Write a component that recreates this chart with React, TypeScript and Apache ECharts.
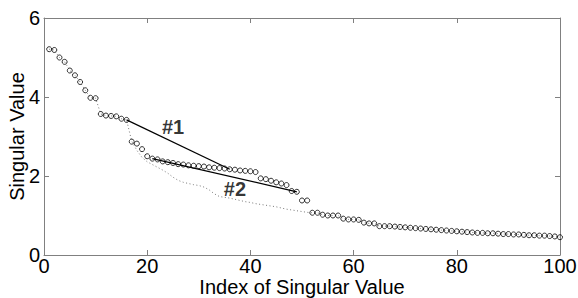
import React, { useEffect, useRef } from "react";
import * as echarts from "echarts";

// Singular values (index 1..100), open circles
const singularValues: number[] = [
  5.21, 5.19, 5.0, 4.89, 4.67, 4.55, 4.38, 4.17, 3.98, 3.97,
  3.57, 3.53, 3.52, 3.51, 3.45, 3.42, 2.87, 2.82, 2.68, 2.5,
  2.44, 2.42, 2.37, 2.35, 2.33, 2.3, 2.29, 2.27, 2.26, 2.25,
  2.24, 2.22, 2.21, 2.2, 2.19, 2.17, 2.16, 2.14, 2.13, 2.12,
  2.1, 1.94, 1.92, 1.88, 1.84, 1.81, 1.77, 1.62, 1.6, 1.38,
  1.38, 1.07, 1.07, 1.02, 1.0, 1.0, 1.0, 0.92, 0.9, 0.9,
  0.89, 0.82, 0.8, 0.8, 0.73, 0.73, 0.73, 0.72, 0.71, 0.7,
  0.69, 0.68, 0.67, 0.66, 0.65, 0.64, 0.63, 0.62, 0.61, 0.6,
  0.59, 0.58, 0.57, 0.56, 0.56, 0.55, 0.55, 0.54, 0.53, 0.53,
  0.52, 0.52, 0.51, 0.5, 0.5, 0.49, 0.49, 0.48, 0.47, 0.45,
];

// Dotted lower curve between index 16 and 52
const lowerStart = 16;
const lowerCurve: number[] = [
  3.42, 2.88, 2.65, 2.47, 2.36, 2.29, 2.22, 2.15, 2.07, 1.97,
  1.89, 1.84, 1.81, 1.78, 1.76, 1.72, 1.65, 1.55, 1.48, 1.46,
  1.44, 1.41, 1.38, 1.35, 1.33, 1.3, 1.28, 1.26, 1.24, 1.22,
  1.19, 1.16, 1.14, 1.12, 1.1, 1.08, 1.07,
];

// Annotation segments
const line1: [number, number][] = [[16, 3.42], [36, 2.17]];
const line2: [number, number][] = [[21, 2.44], [49, 1.6]];
const annotations: [number, number, string][] = [
  [25.0, 3.24, "#1"],
  [37.0, 1.67, "#2"],
];

const xTicks = { min: 0, max: 100, interval: 20 };
const yTicks = { min: 0, max: 6, interval: 2 };

const FONT = "Liberation Sans";
const AXIS_COLOR = "#808080";

export default function App() {
  const ref = useRef<HTMLDivElement>(null);
  useEffect(() => {
    if (!ref.current) return;
    const chart = echarts.init(ref.current, undefined, { renderer: "svg" });

    const circleData = singularValues.map((v, i) => [i + 1, v]);
    const dottedData = singularValues.map((v, i) => {
      const idx = i + 1;
      const k = idx - lowerStart;
      if (k >= 0 && k < lowerCurve.length) return [idx, lowerCurve[k]];
      return [idx, v];
    });

    const axisCommon = {
      axisLine: { show: true, onZero: false, lineStyle: { color: AXIS_COLOR, width: 1 } },
      axisTick: { show: true, inside: true, length: 5, lineStyle: { color: AXIS_COLOR } },
      splitLine: { show: false },
    };

    chart.setOption({
      animation: false,
      backgroundColor: "#ffffff",
      grid: {
        left: 44, top: 18, width: 516, height: 237,
        containLabel: false, outerBoundsMode: "none",
      },
      xAxis: [
        {
          type: "value",
          ...xTicks,
          ...axisCommon,
          position: "bottom",
          axisLabel: { color: "#000", fontFamily: FONT, fontSize: 20, margin: 1 },
          name: "Index of Singular Value",
          nameLocation: "middle",
          nameGap: 22,
          nameMoveOverlap: false,
          nameTextStyle: { color: "#000", fontFamily: FONT, fontSize: 20 },
        },
        {
          type: "value",
          ...xTicks,
          ...axisCommon,
          position: "top",
          axisLabel: { show: false },
        },
      ],
      yAxis: [
        {
          type: "value",
          ...yTicks,
          ...axisCommon,
          position: "left",
          axisLabel: { color: "#000", fontFamily: FONT, fontSize: 20, margin: 4 },
          name: "Singular Value",
          nameLocation: "middle",
          nameGap: 17,
          nameMoveOverlap: false,
          nameTextStyle: { color: "#000", fontFamily: FONT, fontSize: 20 },
        },
        {
          type: "value",
          ...yTicks,
          ...axisCommon,
          position: "right",
          axisLabel: { show: false },
        },
      ],
      series: [
        {
          type: "line",
          data: dottedData,
          showSymbol: false,
          symbol: "none",
          lineStyle: { color: "#777777", width: 1, type: [1, 2.5] },
          z: 1,
        },
        {
          type: "line",
          data: line1,
          symbol: "none",
          lineStyle: { color: "#000", width: 1.2 },
          z: 2,
        },
        {
          type: "line",
          data: line2,
          symbol: "none",
          lineStyle: { color: "#000", width: 1.2 },
          z: 2,
        },
        {
          type: "scatter",
          data: circleData,
          symbol: "circle",
          symbolSize: 5,
          itemStyle: { color: "rgba(255,255,255,0)", borderColor: "#000", borderWidth: 1 },
          z: 3,
        },
        {
          type: "scatter",
          data: annotations,
          symbolSize: 0,
          label: {
            show: true,
            position: "inside",
            formatter: (p: any) => p.value[2],
            color: "#000",
            textBorderWidth: 0,
            textBorderColor: "transparent",
            fontFamily: FONT,
            fontSize: 20,
            fontWeight: "bold",
          },
          z: 4,
        },
      ],
    });
    return () => chart.dispose();
  }, []);

  return (
    <div
      ref={ref}
      style={{ position: "fixed", left: 0, top: 0, width: 578, height: 298, background: "#fff" }}
    />
  );
}
